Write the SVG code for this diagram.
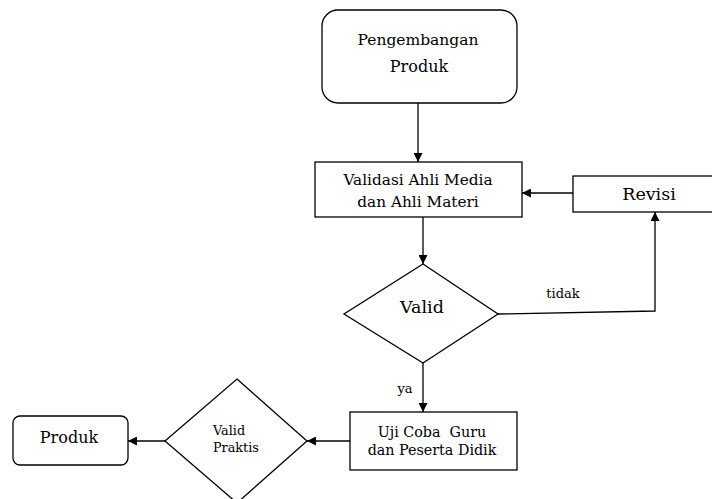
<svg xmlns="http://www.w3.org/2000/svg" width="712" height="499" viewBox="0 0 712 499">
<style>
.box{fill:#fff;stroke:#000;stroke-width:1.3}
.ln{fill:none;stroke:#000;stroke-width:1.3}
text{fill:#000}
</style>
<defs>
<marker id="ah" viewBox="0 0 10 10" refX="10" refY="5" markerWidth="9" markerHeight="9" markerUnits="userSpaceOnUse" orient="auto">
<path d="M0,0 L10,5 L0,10 Z" fill="#000"/>
</marker>
</defs>
<rect width="712" height="499" fill="#fff"/>
<g font-family="DejaVu Serif, Liberation Serif, serif" text-anchor="middle">
<g id="connectors">
<line class="ln" x1="418" y1="103" x2="418" y2="162" marker-end="url(#ah)"/>
<line class="ln" x1="573" y1="193" x2="522" y2="193" marker-end="url(#ah)"/>
<line class="ln" x1="423" y1="217" x2="423" y2="264" marker-end="url(#ah)"/>
<polyline class="ln" points="498,314 655,311 655,212" marker-end="url(#ah)"/>
<line class="ln" x1="423" y1="363" x2="423" y2="412" marker-end="url(#ah)"/>
<line class="ln" x1="350" y1="441" x2="307" y2="441" marker-end="url(#ah)"/>
<line class="ln" x1="165" y1="441" x2="128" y2="441" marker-end="url(#ah)"/>
<text font-size="13" x="563" y="298">tidak</text>
<text font-size="13" x="405" y="393">ya</text>
</g>
<g id="pengembangan">
<rect class="box" x="322" y="10" width="195" height="93" rx="16"/>
<text font-size="15.5" x="418" y="45">Pengembangan</text>
<text font-size="16" x="419" y="72">Produk</text>
</g>
<g id="validasi">
<rect class="box" x="315" y="162" width="207" height="55"/>
<text font-size="15.3" x="418" y="185">Validasi Ahli Media</text>
<text font-size="15.3" x="418" y="207">dan Ahli Materi</text>
</g>
<g id="revisi">
<rect class="box" x="573" y="176" width="152" height="36"/>
<text font-size="17.5" x="649" y="200">Revisi</text>
</g>
<g id="valid">
<polygon class="box" points="423,264 498,314 423,363 344,314"/>
<text font-size="17.5" x="422" y="313">Valid</text>
</g>
<g id="ujicoba">
<rect class="box" x="350" y="412" width="167" height="58"/>
<text font-size="14.3" x="432" y="437" xml:space="preserve">Uji Coba  Guru</text>
<text font-size="14.3" x="432" y="455">dan Peserta Didik</text>
</g>
<g id="validpraktis">
<polygon class="box" points="237,379 307,441 237,503 165,441"/>
<text font-size="12.8" x="213" y="435" text-anchor="start">Valid</text>
<text font-size="12.8" x="213" y="452" text-anchor="start">Praktis</text>
</g>
<g id="produk">
<rect class="box" x="13" y="416" width="115" height="49" rx="7"/>
<text font-size="16" x="69" y="443">Produk</text>
</g>
</g>
</svg>
